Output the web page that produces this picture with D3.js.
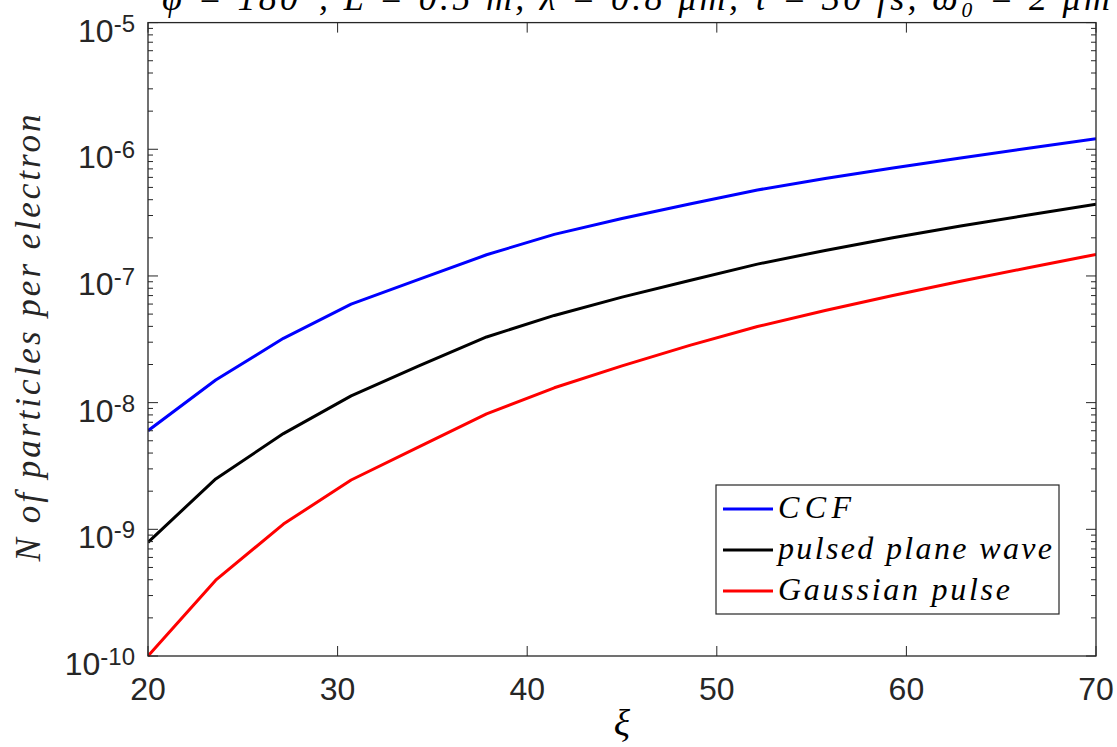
<!DOCTYPE html>
<html><head><meta charset="utf-8">
<script src="https://cdn.jsdelivr.net/npm/d3@7"></script>
<style>html,body{margin:0;padding:0;background:#fff;}svg{display:block;}</style>
</head><body>
<svg id="chart" width="1117" height="747"></svg>
<script>
const xiValues = [20, 23.571, 27.143, 30.714, 34.286, 37.857, 41.429, 45, 48.571, 52.143, 55.714, 59.286, 62.857, 66.429, 70];
const ccf = [6.0e-9, 1.51e-8, 3.22e-8, 6.0e-8, 9.4e-8, 1.47e-7, 2.13e-7, 2.84e-7, 3.70e-7, 4.77e-7, 5.89e-7, 7.12e-7, 8.53e-7, 1.02e-6, 1.21e-6];
const pulsedPlane = [7.9e-10, 2.5e-9, 5.7e-9, 1.13e-8, 1.95e-8, 3.30e-8, 4.88e-8, 6.81e-8, 9.2e-8, 1.24e-7, 1.59e-7, 2.0e-7, 2.48e-7, 3.03e-7, 3.68e-7];
const gaussian = [1.0e-10, 3.97e-10, 1.10e-9, 2.45e-9, 4.48e-9, 8.15e-9, 1.31e-8, 1.95e-8, 2.83e-8, 3.99e-8, 5.34e-8, 7.02e-8, 9.09e-8, 1.16e-7, 1.48e-7];
const seriesNames = ["CCF", "pulsed plane wave", "Gaussian pulse"];
const seriesColors = ["#0000ff", "#000000", "#ff0000"];
const xTicks = [20, 30, 40, 50, 60, 70];
const yExponents = [-10, -9, -8, -7, -6, -5];
const titleText = "φ = 180°, L = 0.5 m, λ = 0.8 μm, τ = 30 fs, ω₀ = 2 μm";
const xLabel = "ξ";
const yLabel = "N of particles per electron";

const L = 148, R = 1096, T = 22.6, B = 656;
const svg = d3.select("#chart");
const x = d3.scaleLinear().domain([20, 70]).range([L, R]);
const y = d3.scaleLog().domain([1e-10, 1e-5]).range([B, T]);
const axisColor = "#262626";
const sans = "'Liberation Sans', Arial, Helvetica, sans-serif";
const serif = "'Liberation Serif', 'Times New Roman', serif";

svg.append("defs").append("clipPath").attr("id", "clip")
  .append("rect").attr("x", L).attr("y", T - 2).attr("width", R - L).attr("height", B - T + 4);

// data lines
const seriesData = [ccf, pulsedPlane, gaussian];
const line = d3.line().x((d, i) => x(xiValues[i])).y(d => y(d));
const plot = svg.append("g").attr("clip-path", "url(#clip)");
seriesData.forEach((s, k) => {
  plot.append("path").datum(s).attr("d", line)
    .attr("fill", "none").attr("stroke", seriesColors[k])
    .attr("stroke-width", 3).attr("stroke-linejoin", "round");
});

// axes (box with inward ticks)
const axG = svg.append("g").attr("stroke", axisColor).attr("fill", "none");
axG.append("rect").attr("x", L).attr("y", T).attr("width", R - L).attr("height", B - T).attr("stroke-width", 1.3);

const majorLen = 10, minorLen = 5;
xTicks.forEach(v => {
  axG.append("line").attr("x1", x(v)).attr("x2", x(v)).attr("y1", B).attr("y2", B - majorLen);
  axG.append("line").attr("x1", x(v)).attr("x2", x(v)).attr("y1", T).attr("y2", T + majorLen);
});
const yTickVals = y.ticks(10);
yTickVals.forEach(v => {
  const e = Math.log10(v);
  const major = Math.abs(e - Math.round(e)) < 1e-9;
  const len = major ? majorLen : minorLen;
  axG.append("line").attr("x1", L).attr("x2", L + len).attr("y1", y(v)).attr("y2", y(v));
  axG.append("line").attr("x1", R).attr("x2", R - len).attr("y1", y(v)).attr("y2", y(v));
});

// x tick labels
svg.append("g").selectAll("text").data(xTicks).join("text")
  .attr("x", d => x(d)).attr("y", B + 44)
  .attr("text-anchor", "middle").attr("font-family", sans).attr("font-size", 32)
  .attr("fill", axisColor).text(d => d);

// y tick labels 10^e
yExponents.forEach(e => {
  const yy = y(Math.pow(10, e));
  const t = svg.append("text").attr("x", 135).attr("y", yy + 19)
    .attr("text-anchor", "end").attr("font-family", sans).attr("fill", axisColor);
  t.append("tspan").attr("font-size", 32).text("10");
  t.append("tspan").attr("font-size", 24).attr("dy", -10).text(String(e));
});

// labels
svg.append("text").attr("x", 622).attr("y", 736).attr("text-anchor", "middle")
  .attr("font-family", serif).attr("font-style", "italic").attr("font-size", 38)
  .attr("fill", "#000").text(xLabel);
svg.append("text").attr("transform", "translate(40,338) rotate(-90)")
  .attr("text-anchor", "middle").attr("font-family", serif).attr("font-style", "italic")
  .attr("font-size", 35).attr("fill", "#262626")
  .attr("textLength", 447).attr("lengthAdjust", "spacing").text(yLabel);

// title (cut off at top, as in the reference)
svg.append("text").attr("x", 162).attr("y", 10)
  .attr("font-family", serif).attr("font-style", "italic").attr("font-size", 36)
  .attr("fill", "#000").attr("textLength", 948).attr("lengthAdjust", "spacing").text(titleText);

// legend
const lg = svg.append("g");
lg.append("rect").attr("x", 716).attr("y", 485).attr("width", 343).attr("height", 129)
  .attr("fill", "#fff").attr("stroke", axisColor).attr("stroke-width", 1.2);
const legendY = [509, 550, 591];
const legendLen = [73, 274, 232];
seriesNames.forEach((n, k) => {
  lg.append("line").attr("x1", 723).attr("x2", 773).attr("y1", legendY[k]).attr("y2", legendY[k])
    .attr("stroke", seriesColors[k]).attr("stroke-width", 3);
  lg.append("text").attr("x", 778).attr("y", legendY[k] + 9)
    .attr("font-family", serif).attr("font-style", "italic").attr("font-size", 32)
    .attr("fill", "#000").attr("textLength", legendLen[k]).attr("lengthAdjust", "spacing").text(n);
});
</script>
</body></html>
